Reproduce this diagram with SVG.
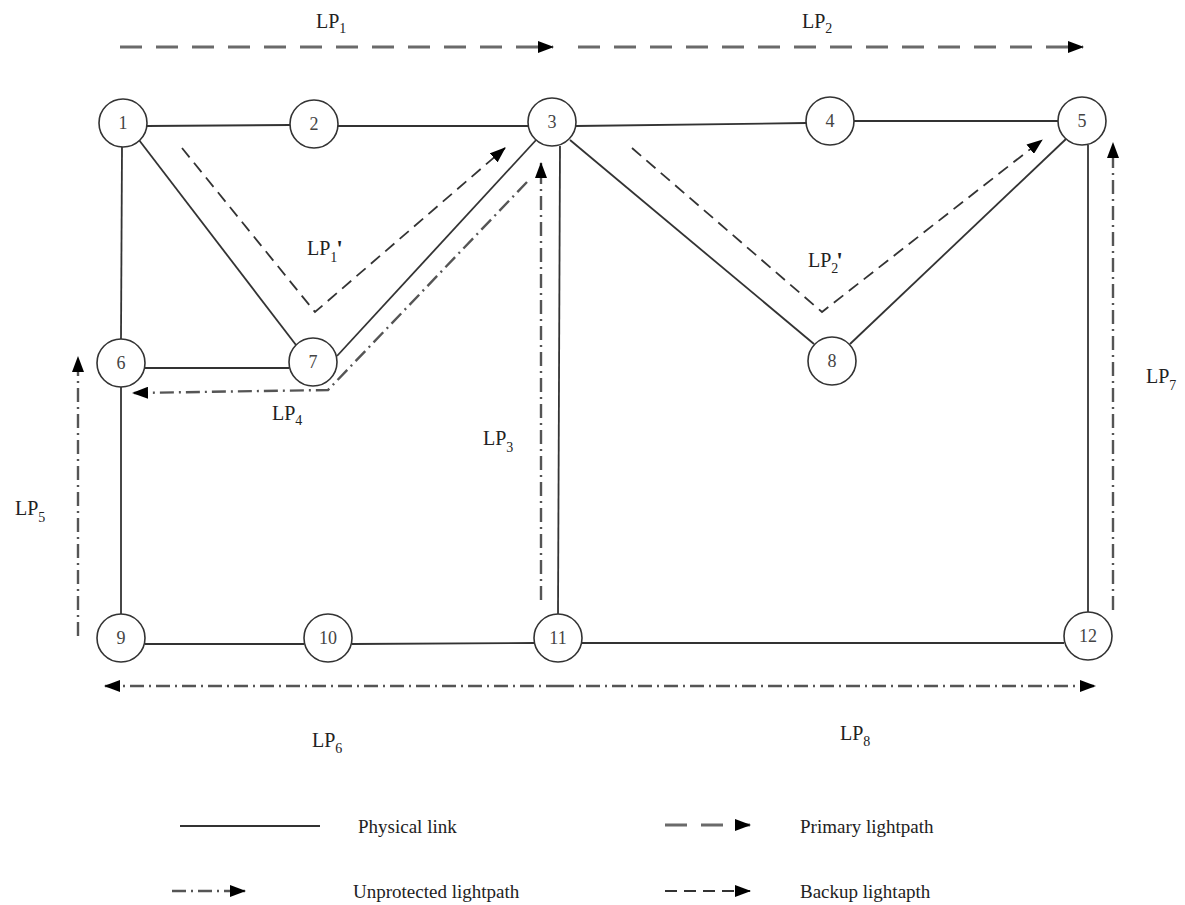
<svg xmlns="http://www.w3.org/2000/svg" width="1185" height="905" viewBox="0 0 1185 905">
<style>
text{font-family:"Liberation Serif","DejaVu Serif",serif;fill:#222}
.node circle{fill:#fff;stroke:#333;stroke-width:1.6}
.node text{font-size:18px;text-anchor:middle;fill:#444}
.phys{stroke:#333;stroke-width:1.8;fill:none}
.prim{stroke:#6a6a6a;stroke-width:3;stroke-dasharray:22 14;fill:none}
.back{stroke:#333;stroke-width:1.8;stroke-dasharray:12 7;fill:none}
.unp{stroke:#555;stroke-width:2.4;stroke-dasharray:14 5 2 5;fill:none}
.lbl{font-size:20px}
.sub{font-size:14px}
.pr{font-size:24px;font-weight:bold}
.leg{font-size:19px}
</style>
<defs>
<marker id="ah" markerUnits="userSpaceOnUse" markerWidth="16" markerHeight="12" refX="15" refY="6" orient="auto">
<path d="M0,0 L16,6 L0,12 Z" fill="#000"/>
</marker>
</defs>
<rect width="1185" height="905" fill="#fff"/>
<g id="connectors">
<line class="phys" x1="147" y1="126" x2="290" y2="125"/>
<line class="phys" x1="338" y1="126" x2="528" y2="126"/>
<line class="phys" x1="576" y1="126" x2="806" y2="123"/>
<line class="phys" x1="854" y1="121" x2="1058" y2="121"/>
<line class="phys" x1="122" y1="147" x2="121" y2="339"/>
<line class="phys" x1="139" y1="140" x2="296" y2="345"/>
<line class="phys" x1="537" y1="139" x2="337" y2="356"/>
<line class="phys" x1="560" y1="146" x2="558" y2="614"/>
<line class="phys" x1="570" y1="140" x2="814" y2="344"/>
<line class="phys" x1="850" y1="344" x2="1066" y2="139"/>
<line class="phys" x1="1088" y1="145" x2="1088" y2="612"/>
<line class="phys" x1="145" y1="368" x2="289" y2="368"/>
<line class="phys" x1="121" y1="387" x2="121" y2="614"/>
<line class="phys" x1="145" y1="644" x2="304" y2="644"/>
<line class="phys" x1="352" y1="644" x2="534" y2="643"/>
<line class="phys" x1="582" y1="643" x2="1064" y2="643"/>
<line class="prim" x1="120" y1="47" x2="553" y2="47" marker-end="url(#ah)"/>
<line class="prim" x1="578" y1="47" x2="1083" y2="47" marker-end="url(#ah)"/>
<polyline class="back" points="182,148 315,312 505,148" marker-end="url(#ah)"/>
<polyline class="back" points="632,148 822,312 1042,140" marker-end="url(#ah)"/>
<polyline class="unp" points="527,182 328,390 133,393" marker-end="url(#ah)"/>
<line class="unp" x1="541" y1="600" x2="541" y2="163" marker-end="url(#ah)"/>
<line class="unp" x1="78" y1="636" x2="78" y2="357" marker-end="url(#ah)"/>
<line class="unp" x1="1113" y1="610" x2="1113" y2="143" marker-end="url(#ah)"/>
<line class="unp" x1="560" y1="686" x2="105" y2="686" marker-end="url(#ah)"/>
<line class="unp" x1="560" y1="686" x2="1095" y2="686" marker-end="url(#ah)"/>
</g>
<g id="node-1" class="node"><circle cx="123" cy="123" r="24"/><text x="123" y="129">1</text></g>
<g id="node-2" class="node"><circle cx="314" cy="124" r="24"/><text x="314" y="130">2</text></g>
<g id="node-3" class="node"><circle cx="552" cy="122" r="24"/><text x="552" y="128">3</text></g>
<g id="node-4" class="node"><circle cx="830" cy="121" r="24"/><text x="830" y="127">4</text></g>
<g id="node-5" class="node"><circle cx="1082" cy="121" r="24"/><text x="1082" y="127">5</text></g>
<g id="node-6" class="node"><circle cx="121" cy="363" r="24"/><text x="121" y="369">6</text></g>
<g id="node-7" class="node"><circle cx="313" cy="362" r="24"/><text x="313" y="368">7</text></g>
<g id="node-8" class="node"><circle cx="832" cy="361" r="24"/><text x="832" y="367">8</text></g>
<g id="node-9" class="node"><circle cx="121" cy="638" r="24"/><text x="121" y="644">9</text></g>
<g id="node-10" class="node"><circle cx="328" cy="638" r="24"/><text x="328" y="644">10</text></g>
<g id="node-11" class="node"><circle cx="558" cy="638" r="24"/><text x="558" y="644">11</text></g>
<g id="node-12" class="node"><circle cx="1088" cy="636" r="24"/><text x="1088" y="642">12</text></g>
<g id="labels">
<text class="lbl" x="316" y="28">LP<tspan class="sub" dy="5">1</tspan></text>
<text class="lbl" x="802" y="28">LP<tspan class="sub" dy="5">2</tspan></text>
<text class="lbl" x="307" y="255">LP<tspan class="sub" dy="7">1</tspan><tspan class="pr" dx="-1" dy="-6">'</tspan></text>
<text class="lbl" x="808" y="267">LP<tspan class="sub" dy="6">2</tspan><tspan class="pr" dx="-2" dy="-5">'</tspan></text>
<text class="lbl" x="272" y="420">LP<tspan class="sub" dy="5">4</tspan></text>
<text class="lbl" x="483" y="445">LP<tspan class="sub" dy="7">3</tspan></text>
<text class="lbl" x="15" y="515">LP<tspan class="sub" dy="7">5</tspan></text>
<text class="lbl" x="1146" y="383">LP<tspan class="sub" dy="7">7</tspan></text>
<text class="lbl" x="312" y="747">LP<tspan class="sub" dy="6">6</tspan></text>
<text class="lbl" x="840" y="740">LP<tspan class="sub" dy="6">8</tspan></text>
</g>
<g id="legend">
<line class="phys" x1="180" y1="826" x2="320" y2="826"/>
<text class="leg" x="358" y="833">Physical link</text>
<line class="prim" x1="665" y1="825" x2="750" y2="825" stroke-dasharray="16 10" marker-end="url(#ah)"/>
<text class="leg" x="800" y="833">Primary lightpath</text>
<line class="unp" x1="172" y1="891" x2="245" y2="891" marker-end="url(#ah)"/>
<text class="leg" x="353" y="898">Unprotected lightpath</text>
<line class="back" x1="665" y1="891" x2="750" y2="891" stroke-dasharray="8 5" marker-end="url(#ah)"/>
<text class="leg" x="800" y="898">Backup lightapth</text>
</g>
</svg>
